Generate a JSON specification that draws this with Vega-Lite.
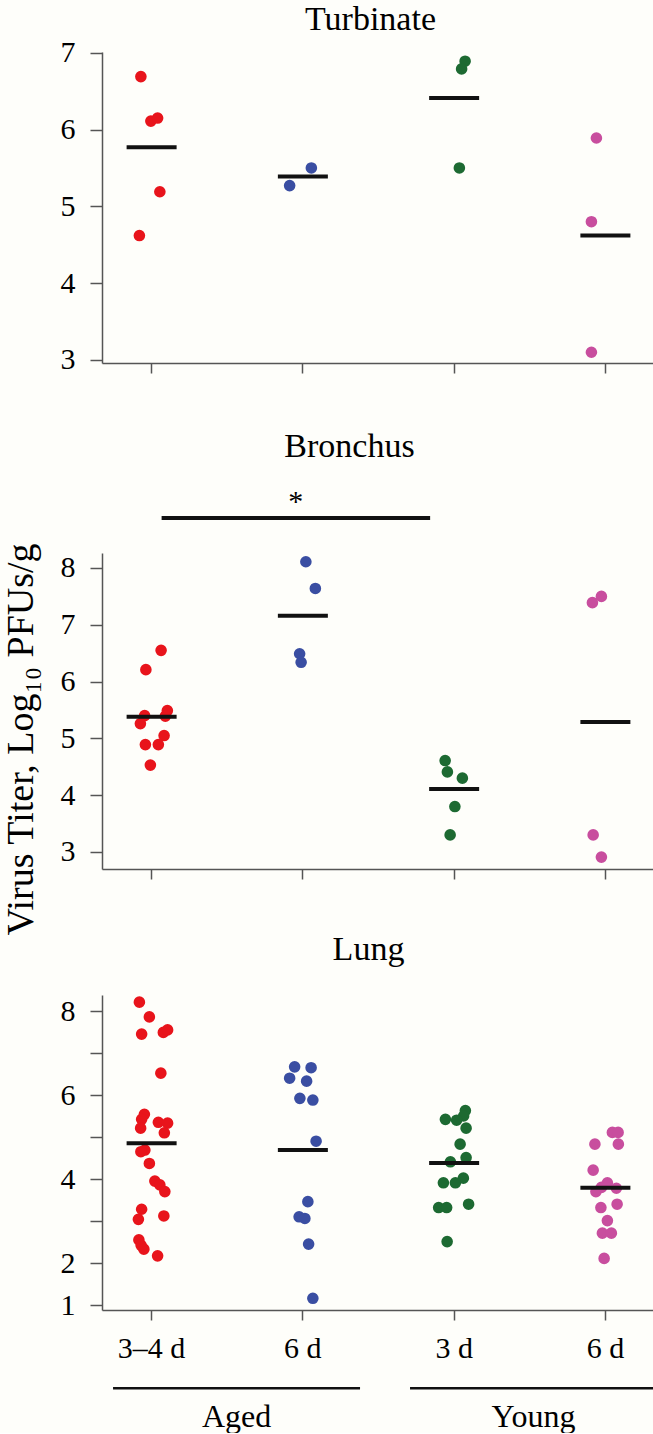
{
  "$schema": "https://vega.github.io/schema/vega-lite/v6.json",
  "background": "#fefefa",
  "padding": {"left": 2, "top": 2, "right": 0, "bottom": 0},
  "config": {
    "font": "Liberation Serif",
    "view": {"stroke": null},
    "axis": {"grid": false, "domainColor": "#555", "tickColor": "#555", "domainWidth": 1.5, "tickWidth": 1.5, "labelFont": "Liberation Serif", "labelColor": "#000", "labelFontSize": 30, "titleFont": "Liberation Serif", "titleFontWeight": "normal", "titleColor": "#000"},
    "title": {"font": "Liberation Serif", "fontSize": 34, "fontWeight": "normal", "color": "#000", "frame": "group", "anchor": "middle"},
    "tick": {"opacity": 1},
    "circle": {"size": 135, "opacity": 1}
  },
  "datasets": {
    "pts": [
      {"tissue": "Turbinate", "group": "Aged 3–4 d", "value": 6.69, "jitter": -0.43},
      {"tissue": "Turbinate", "group": "Aged 3–4 d", "value": 6.11, "jitter": -0.03},
      {"tissue": "Turbinate", "group": "Aged 3–4 d", "value": 6.15, "jitter": 0.24},
      {"tissue": "Turbinate", "group": "Aged 3–4 d", "value": 5.19, "jitter": 0.33},
      {"tissue": "Turbinate", "group": "Aged 3–4 d", "value": 4.62, "jitter": -0.49},
      {"tissue": "Turbinate", "group": "Aged 6 d", "value": 5.5, "jitter": 0.34},
      {"tissue": "Turbinate", "group": "Aged 6 d", "value": 5.27, "jitter": -0.53},
      {"tissue": "Turbinate", "group": "Young 3 d", "value": 6.89, "jitter": 0.44},
      {"tissue": "Turbinate", "group": "Young 3 d", "value": 6.79, "jitter": 0.3},
      {"tissue": "Turbinate", "group": "Young 3 d", "value": 5.5, "jitter": 0.21},
      {"tissue": "Turbinate", "group": "Young 6 d", "value": 5.89, "jitter": -0.36},
      {"tissue": "Turbinate", "group": "Young 6 d", "value": 4.8, "jitter": -0.56},
      {"tissue": "Turbinate", "group": "Young 6 d", "value": 3.1, "jitter": -0.56},
      {"tissue": "Bronchus", "group": "Aged 3–4 d", "value": 6.55, "jitter": 0.38},
      {"tissue": "Bronchus", "group": "Aged 3–4 d", "value": 6.21, "jitter": -0.23},
      {"tissue": "Bronchus", "group": "Aged 3–4 d", "value": 5.4, "jitter": -0.28},
      {"tissue": "Bronchus", "group": "Aged 3–4 d", "value": 5.26, "jitter": -0.45},
      {"tissue": "Bronchus", "group": "Aged 3–4 d", "value": 5.49, "jitter": 0.63},
      {"tissue": "Bronchus", "group": "Aged 3–4 d", "value": 5.39, "jitter": 0.55},
      {"tissue": "Bronchus", "group": "Aged 3–4 d", "value": 5.05, "jitter": 0.5},
      {"tissue": "Bronchus", "group": "Aged 3–4 d", "value": 4.89, "jitter": -0.25},
      {"tissue": "Bronchus", "group": "Aged 3–4 d", "value": 4.89, "jitter": 0.27},
      {"tissue": "Bronchus", "group": "Aged 3–4 d", "value": 4.53, "jitter": -0.05},
      {"tissue": "Bronchus", "group": "Aged 6 d", "value": 8.11, "jitter": 0.12},
      {"tissue": "Bronchus", "group": "Aged 6 d", "value": 7.64, "jitter": 0.5},
      {"tissue": "Bronchus", "group": "Aged 6 d", "value": 6.49, "jitter": -0.13},
      {"tissue": "Bronchus", "group": "Aged 6 d", "value": 6.34, "jitter": -0.07},
      {"tissue": "Bronchus", "group": "Young 3 d", "value": 4.61, "jitter": -0.36},
      {"tissue": "Bronchus", "group": "Young 3 d", "value": 4.41, "jitter": -0.27},
      {"tissue": "Bronchus", "group": "Young 3 d", "value": 4.3, "jitter": 0.33},
      {"tissue": "Bronchus", "group": "Young 3 d", "value": 3.8, "jitter": 0.03},
      {"tissue": "Bronchus", "group": "Young 3 d", "value": 3.3, "jitter": -0.16},
      {"tissue": "Bronchus", "group": "Young 6 d", "value": 7.39, "jitter": -0.52},
      {"tissue": "Bronchus", "group": "Young 6 d", "value": 7.5, "jitter": -0.16},
      {"tissue": "Bronchus", "group": "Young 6 d", "value": 3.3, "jitter": -0.49},
      {"tissue": "Bronchus", "group": "Young 6 d", "value": 2.91, "jitter": -0.16},
      {"tissue": "Lung", "group": "Aged 3–4 d", "value": 8.21, "jitter": -0.49},
      {"tissue": "Lung", "group": "Aged 3–4 d", "value": 7.86, "jitter": -0.09},
      {"tissue": "Lung", "group": "Aged 3–4 d", "value": 7.45, "jitter": -0.4},
      {"tissue": "Lung", "group": "Aged 3–4 d", "value": 7.49, "jitter": 0.47},
      {"tissue": "Lung", "group": "Aged 3–4 d", "value": 7.55, "jitter": 0.64},
      {"tissue": "Lung", "group": "Aged 3–4 d", "value": 6.52, "jitter": 0.37},
      {"tissue": "Lung", "group": "Aged 3–4 d", "value": 5.54, "jitter": -0.29},
      {"tissue": "Lung", "group": "Aged 3–4 d", "value": 5.42, "jitter": -0.4},
      {"tissue": "Lung", "group": "Aged 3–4 d", "value": 5.21, "jitter": -0.44},
      {"tissue": "Lung", "group": "Aged 3–4 d", "value": 5.35, "jitter": 0.27},
      {"tissue": "Lung", "group": "Aged 3–4 d", "value": 5.33, "jitter": 0.64},
      {"tissue": "Lung", "group": "Aged 3–4 d", "value": 5.1, "jitter": 0.51},
      {"tissue": "Lung", "group": "Aged 3–4 d", "value": 4.69, "jitter": -0.27},
      {"tissue": "Lung", "group": "Aged 3–4 d", "value": 4.65, "jitter": -0.43},
      {"tissue": "Lung", "group": "Aged 3–4 d", "value": 4.37, "jitter": -0.09},
      {"tissue": "Lung", "group": "Aged 3–4 d", "value": 3.95, "jitter": 0.13},
      {"tissue": "Lung", "group": "Aged 3–4 d", "value": 3.86, "jitter": 0.33},
      {"tissue": "Lung", "group": "Aged 3–4 d", "value": 3.7, "jitter": 0.53},
      {"tissue": "Lung", "group": "Aged 3–4 d", "value": 3.28, "jitter": -0.4},
      {"tissue": "Lung", "group": "Aged 3–4 d", "value": 3.04, "jitter": -0.53},
      {"tissue": "Lung", "group": "Aged 3–4 d", "value": 3.12, "jitter": 0.49},
      {"tissue": "Lung", "group": "Aged 3–4 d", "value": 2.55, "jitter": -0.51},
      {"tissue": "Lung", "group": "Aged 3–4 d", "value": 2.42, "jitter": -0.42},
      {"tissue": "Lung", "group": "Aged 3–4 d", "value": 2.33, "jitter": -0.31},
      {"tissue": "Lung", "group": "Aged 3–4 d", "value": 2.17, "jitter": 0.24},
      {"tissue": "Lung", "group": "Aged 6 d", "value": 6.67, "jitter": -0.33},
      {"tissue": "Lung", "group": "Aged 6 d", "value": 6.65, "jitter": 0.33},
      {"tissue": "Lung", "group": "Aged 6 d", "value": 6.4, "jitter": -0.53},
      {"tissue": "Lung", "group": "Aged 6 d", "value": 6.33, "jitter": 0.15},
      {"tissue": "Lung", "group": "Aged 6 d", "value": 5.92, "jitter": -0.12},
      {"tissue": "Lung", "group": "Aged 6 d", "value": 5.88, "jitter": 0.4},
      {"tissue": "Lung", "group": "Aged 6 d", "value": 4.9, "jitter": 0.53},
      {"tissue": "Lung", "group": "Aged 6 d", "value": 3.46, "jitter": 0.2},
      {"tissue": "Lung", "group": "Aged 6 d", "value": 3.1, "jitter": -0.15},
      {"tissue": "Lung", "group": "Aged 6 d", "value": 3.06, "jitter": 0.08},
      {"tissue": "Lung", "group": "Aged 6 d", "value": 2.45, "jitter": 0.23},
      {"tissue": "Lung", "group": "Aged 6 d", "value": 1.16, "jitter": 0.4},
      {"tissue": "Lung", "group": "Young 3 d", "value": 5.63, "jitter": 0.45},
      {"tissue": "Lung", "group": "Young 3 d", "value": 5.5, "jitter": 0.38},
      {"tissue": "Lung", "group": "Young 3 d", "value": 5.42, "jitter": -0.35},
      {"tissue": "Lung", "group": "Young 3 d", "value": 5.4, "jitter": 0.1},
      {"tissue": "Lung", "group": "Young 3 d", "value": 5.21, "jitter": 0.48},
      {"tissue": "Lung", "group": "Young 3 d", "value": 4.83, "jitter": 0.24},
      {"tissue": "Lung", "group": "Young 3 d", "value": 4.51, "jitter": 0.48},
      {"tissue": "Lung", "group": "Young 3 d", "value": 4.41, "jitter": -0.15},
      {"tissue": "Lung", "group": "Young 3 d", "value": 4.02, "jitter": 0.37},
      {"tissue": "Lung", "group": "Young 3 d", "value": 3.91, "jitter": 0.05},
      {"tissue": "Lung", "group": "Young 3 d", "value": 3.91, "jitter": -0.43},
      {"tissue": "Lung", "group": "Young 3 d", "value": 3.32, "jitter": -0.62},
      {"tissue": "Lung", "group": "Young 3 d", "value": 3.32, "jitter": -0.3},
      {"tissue": "Lung", "group": "Young 3 d", "value": 3.4, "jitter": 0.58},
      {"tissue": "Lung", "group": "Young 3 d", "value": 2.51, "jitter": -0.28},
      {"tissue": "Lung", "group": "Young 6 d", "value": 5.11, "jitter": 0.28},
      {"tissue": "Lung", "group": "Young 6 d", "value": 5.11, "jitter": 0.51},
      {"tissue": "Lung", "group": "Young 6 d", "value": 4.83, "jitter": -0.42},
      {"tissue": "Lung", "group": "Young 6 d", "value": 4.83, "jitter": 0.52},
      {"tissue": "Lung", "group": "Young 6 d", "value": 4.21, "jitter": -0.49},
      {"tissue": "Lung", "group": "Young 6 d", "value": 3.91, "jitter": 0.08},
      {"tissue": "Lung", "group": "Young 6 d", "value": 3.8, "jitter": -0.16},
      {"tissue": "Lung", "group": "Young 6 d", "value": 3.7, "jitter": -0.38},
      {"tissue": "Lung", "group": "Young 6 d", "value": 3.78, "jitter": 0.44},
      {"tissue": "Lung", "group": "Young 6 d", "value": 3.32, "jitter": -0.18},
      {"tissue": "Lung", "group": "Young 6 d", "value": 3.4, "jitter": 0.47},
      {"tissue": "Lung", "group": "Young 6 d", "value": 3.01, "jitter": 0.08},
      {"tissue": "Lung", "group": "Young 6 d", "value": 2.71, "jitter": -0.12},
      {"tissue": "Lung", "group": "Young 6 d", "value": 2.71, "jitter": 0.24},
      {"tissue": "Lung", "group": "Young 6 d", "value": 2.11, "jitter": -0.05}
    ],
    "means": [
      {"tissue": "Turbinate", "group": "Aged 3–4 d", "value": 5.77},
      {"tissue": "Turbinate", "group": "Aged 6 d", "value": 5.39},
      {"tissue": "Turbinate", "group": "Young 3 d", "value": 6.41},
      {"tissue": "Turbinate", "group": "Young 6 d", "value": 4.62},
      {"tissue": "Bronchus", "group": "Aged 3–4 d", "value": 5.38},
      {"tissue": "Bronchus", "group": "Aged 6 d", "value": 7.16},
      {"tissue": "Bronchus", "group": "Young 3 d", "value": 4.11},
      {"tissue": "Bronchus", "group": "Young 6 d", "value": 5.29},
      {"tissue": "Lung", "group": "Aged 3–4 d", "value": 4.85},
      {"tissue": "Lung", "group": "Aged 6 d", "value": 4.69},
      {"tissue": "Lung", "group": "Young 3 d", "value": 4.38},
      {"tissue": "Lung", "group": "Young 6 d", "value": 3.79}
    ],
    "ages": [{"age": "Aged"}, {"age": "Young"}]
  },
  "spacing": 55,
  "vconcat": [
    {
      "width": 553,
      "height": 311,
      "title": {"text": "Turbinate", "offset": 1, "dx": -8},
      "layer": [
        {
          "data": {"name": "pts"},
          "transform": [{"filter": "datum.tissue === 'Turbinate'"}],
          "mark": {"type": "circle"},
          "encoding": {
            "x": {"field": "group", "type": "nominal", "scale": {"domain": ["Aged 3–4 d", "Aged 6 d", "Young 3 d", "Young 6 d"], "paddingInner": 0.67, "paddingOuter": 0.163}, "axis": {"labels": false, "title": null, "tickSize": 10}},
            "xOffset": {"field": "jitter", "type": "quantitative", "scale": {"domain": [-1, 1]}},
            "y": {"field": "value", "type": "quantitative", "scale": {"domain": [2.96, 7.01], "nice": false, "zero": false}, "axis": {"values": [3, 4, 5, 6, 7], "format": "d", "tickSize": 12, "labelPadding": 15, "title": null}},
            "color": {"field": "group", "type": "nominal", "scale": {"domain": ["Aged 3–4 d", "Aged 6 d", "Young 3 d", "Young 6 d"], "range": ["#e8141b", "#3a4ea2", "#1d6a32", "#c84e9e"]}, "legend": null}
          }
        },
        {
          "data": {"name": "means"},
          "transform": [{"filter": "datum.tissue === 'Turbinate'"}],
          "mark": {"type": "tick", "size": 50, "thickness": 4, "color": "#111", "opacity": 1},
          "encoding": {
            "x": {"field": "group", "type": "nominal"},
            "y": {"field": "value", "type": "quantitative"}
          }
        }
      ]
    },
    {
      "bounds": "flush",
      "spacing": 126,
      "vconcat": [
        {
          "width": 553,
          "height": 316,
          "title": {"text": "Bronchus", "offset": 23, "dx": -29},
          "layer": [
            {
              "data": {"name": "pts"},
              "transform": [{"filter": "datum.tissue === 'Bronchus'"}],
              "mark": {"type": "circle"},
              "encoding": {
                "x": {"field": "group", "type": "nominal", "scale": {"domain": ["Aged 3–4 d", "Aged 6 d", "Young 3 d", "Young 6 d"], "paddingInner": 0.67, "paddingOuter": 0.163}, "axis": {"labels": false, "title": null, "tickSize": 10}},
                "xOffset": {"field": "jitter", "type": "quantitative", "scale": {"domain": [-1, 1]}},
                "y": {"field": "value", "type": "quantitative", "scale": {"domain": [2.7, 8.264], "nice": false, "zero": false}, "axis": {"values": [3, 4, 5, 6, 7, 8], "format": "d", "tickSize": 12, "labelPadding": 15, "title": "Virus Titer, Log₁₀ PFUs/g", "titleFontSize": 38, "titlePadding": 20, "titleY": 186}},
                "color": {"field": "group", "type": "nominal", "scale": {"domain": ["Aged 3–4 d", "Aged 6 d", "Young 3 d", "Young 6 d"], "range": ["#e8141b", "#3a4ea2", "#1d6a32", "#c84e9e"]}, "legend": null}
              }
            },
            {
              "data": {"name": "means"},
              "transform": [{"filter": "datum.tissue === 'Bronchus'"}],
              "mark": {"type": "tick", "size": 50, "thickness": 4, "color": "#111", "opacity": 1},
              "encoding": {
                "x": {"field": "group", "type": "nominal"},
                "y": {"field": "value", "type": "quantitative"}
              }
            },
            {
              "data": {"values": [{"label": "*"}]},
              "mark": {"type": "rule", "strokeWidth": 4, "color": "#111", "xOffset": 10, "x2Offset": -24},
              "encoding": {
                "x": {"datum": "Aged 3–4 d"},
                "x2": {"datum": "Young 3 d"},
                "y": {"datum": 8.88}
              }
            },
            {
              "data": {"values": [{"label": "*"}]},
              "mark": {"type": "text", "fontSize": 30, "dx": -7, "baseline": "alphabetic", "color": "#000"},
              "encoding": {
                "x": {"datum": "Aged 6 d"},
                "y": {"datum": 9.0},
                "text": {"field": "label"}
              }
            }
          ]
        },
        {
          "width": 553,
          "height": 315,
          "title": {"text": "Lung", "offset": 28, "dx": -10},
          "layer": [
            {
              "layer": [
                {
                  "data": {"name": "pts"},
                  "transform": [{"filter": "datum.tissue === 'Lung'"}],
                  "mark": {"type": "circle"},
                  "encoding": {
                    "x": {"field": "group", "type": "nominal", "scale": {"domain": ["Aged 3–4 d", "Aged 6 d", "Young 3 d", "Young 6 d"], "paddingInner": 0.67, "paddingOuter": 0.163}, "axis": {"title": null, "tickSize": 10, "labelPadding": 13, "labelAngle": 0, "labelExpr": "replace(replace(datum.label, 'Aged ', ''), 'Young ', '')"}},
                    "xOffset": {"field": "jitter", "type": "quantitative", "scale": {"domain": [-1, 1]}},
                    "y": {"field": "value", "type": "quantitative", "scale": {"domain": [0.881, 8.381], "nice": false, "zero": false}, "axis": {"values": [1, 2, 3, 4, 5, 6, 7, 8], "format": "d", "tickSize": 12, "labelPadding": 15, "title": null, "labelExpr": "(datum.value === 3 || datum.value === 5 || datum.value === 7) ? '' : datum.label"}},
                    "color": {"field": "group", "type": "nominal", "scale": {"domain": ["Aged 3–4 d", "Aged 6 d", "Young 3 d", "Young 6 d"], "range": ["#e8141b", "#3a4ea2", "#1d6a32", "#c84e9e"]}, "legend": null}
                  }
                },
                {
                  "data": {"name": "means"},
                  "transform": [{"filter": "datum.tissue === 'Lung'"}],
                  "mark": {"type": "tick", "size": 50, "thickness": 4, "color": "#111", "opacity": 1},
                  "encoding": {
                    "x": {"field": "group", "type": "nominal"},
                    "y": {"field": "value", "type": "quantitative"}
                  }
                }
              ]
            },
            {
              "layer": [
                {
                  "data": {"name": "ages"},
                  "mark": {"type": "tick", "color": "#111", "size": 247, "thickness": 2.5, "opacity": 1},
                  "encoding": {
                    "x": {"field": "age", "type": "nominal", "scale": {"domain": ["Aged", "Young"], "paddingInner": 0.182, "paddingOuter": 0.022, "align": 1}, "axis": null},
                    "y": {"datum": -0.98}
                  }
                },
                {
                  "data": {"name": "ages"},
                  "mark": {"type": "text", "fontSize": 32, "baseline": "alphabetic", "color": "#000"},
                  "encoding": {
                    "x": {"field": "age", "type": "nominal"},
                    "y": {"datum": -1.9},
                    "text": {"field": "age"}
                  }
                }
              ]
            }
          ],
          "resolve": {"scale": {"x": "independent"}}
        }
      ]
    }
  ]
}
